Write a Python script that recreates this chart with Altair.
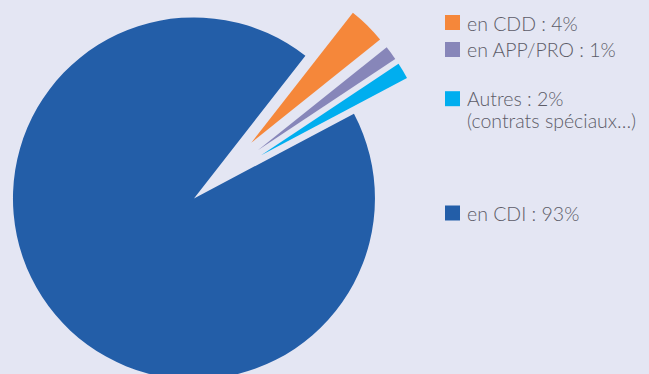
import math
import altair as alt
import pandas as pd

# ---- data ----
categories = ["en CDD", "en APP/PRO", "Autres", "en CDI"]
values = [3.7, 1.4, 1.6, 93.3]
legend_text = [["en CDD : 4%"], ["en APP/PRO : 1%"], ["Autres : 2%", "(contrats spéciaux…)"], ["en CDI : 93%"]]

# ---- style / layout ----
colors = ["#f5873a", "#8786b9", "#00aeef", "#235ea8"]
W, H = 649, 374
CX, CY = 207, 187.5          # pie centre (px)
START_DEG = 38               # angle where the first slice starts
EXPLODE_SMALL, EXPLODE_BIG = 63, 17
R_SMALL, R_BIG = 165, 181
BG = "#e4e6f3"
TEXT_COLOR = "#5c5c68"
FONT = "Lato"
LEG_SQ_X, LEG_TXT_X = 452.5, 467
LEG_SQ_Y = [22.5, 49.5, 98.7, 213]
LEG_LINE_Y = [[30.5], [56.7], [106, 127.5], [220.7]]

total = sum(values)
a0 = math.radians(START_DEG)

pie_df = pd.DataFrame({"cat": categories, "value": values, "order": list(range(len(values)))})

color_scale = alt.Scale(domain=categories, range=colors)
theta_scale = alt.Scale(domain=[0, total], range=[a0, a0 + 2 * math.pi])

base = (
    alt.Chart(pie_df)
    .transform_window(cum="sum(value)", sort=[alt.SortField("order")], frame=[None, 0])
    .transform_calculate(start="datum.cum - datum.value")
    .transform_calculate(
        mid=f"{a0} + 2 * PI * (datum.start + datum.value / 2) / {total}",
        ex=f"datum.cat == 'en CDI' ? {EXPLODE_BIG} : {EXPLODE_SMALL}",
    )
    .transform_calculate(
        px=f"{CX} + datum.ex * sin(datum.mid)",
        py=f"{CY} - datum.ex * cos(datum.mid)",
    )
    .encode(
        theta=alt.Theta("start:Q", scale=theta_scale, stack=False),
        theta2="cum:Q",
        x=alt.X("px:Q", scale=None),
        y=alt.Y("py:Q", scale=None),
        color=alt.Color("cat:N", scale=color_scale, legend=None),
    )
)

big = base.transform_filter("datum.cat == 'en CDI'").mark_arc(radius=R_BIG, stroke=None)
small = base.transform_filter("datum.cat != 'en CDI'").mark_arc(radius=R_SMALL, stroke=None)

# custom legend
sq_rows = pd.DataFrame({"cat": categories, "sy": LEG_SQ_Y})
txt_rows = []
for cat, lines, ys in zip(categories, legend_text, LEG_LINE_Y):
    for line, y in zip(lines, ys):
        txt_rows.append({"cat": cat, "label": line, "ty": y})
txt_df = pd.DataFrame(txt_rows)

squares = (
    alt.Chart(sq_rows)
    .mark_square(size=225, opacity=1, strokeWidth=0)
    .encode(
        x=alt.value(LEG_SQ_X),
        y=alt.Y("sy:Q", scale=None),
        color=alt.Color("cat:N", scale=color_scale, legend=None),
    )
)
texts = (
    alt.Chart(txt_df)
    .mark_text(align="left", baseline="alphabetic", font=FONT, fontSize=19.5, fontWeight=300, color=TEXT_COLOR)
    .encode(x=alt.value(LEG_TXT_X), y=alt.Y("ty:Q", scale=None), text="label:N")
)

chart = (
    alt.layer(big, small, squares, texts)
    .properties(width=W, height=H, padding=0, autosize="none", background=BG)
    .configure_view(strokeWidth=0)
)

chart.save("out.html", embed_options={"renderer": "svg", "actions": False})
